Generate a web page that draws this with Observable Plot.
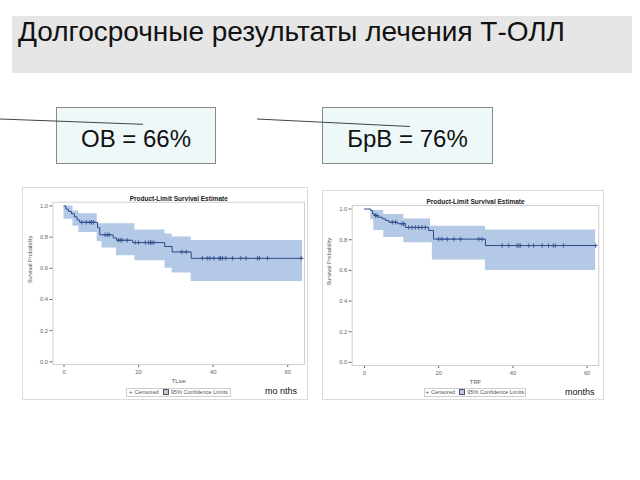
<!DOCTYPE html>
<html>
<head>
<meta charset="utf-8">
<script src="https://cdn.jsdelivr.net/npm/d3@7"></script>
<script src="https://cdn.jsdelivr.net/npm/@observablehq/plot@0.6"></script>
<style>
  html, body { margin: 0; padding: 0; background: #fff; }
  body { width: 640px; height: 480px; position: relative; overflow: hidden; font-family: "Liberation Sans", Arial, sans-serif; }
  .abs { position: absolute; }
  #titlebar { left: 12px; top: 16px; width: 620px; height: 57px; background: #e6e6e6; }
  #title { left: 18px; top: 16px; font-size: 28px; color: #111; white-space: nowrap; }
  .box { top: 107px; height: 57px; background: #eef8f8; border: 1px solid #8a8a8a; box-sizing: border-box;
         font-size: 24px; color: #111; display: flex; align-items: center; justify-content: center; padding-top: 6px; }
  .panel { background: #fff; border: 1px solid #dcdcdc; box-sizing: border-box; }
  .legend { border: 1px solid #cfcfcf; font-size: 5.6px; color: #555; white-space: nowrap; box-sizing: border-box;
            display: flex; align-items: center; justify-content: center; height: 9px; }
  .legend .plus { color: #2d4a8a; margin-right: 2px; }
  .legend .sq { display: inline-block; width: 4px; height: 4px; background: #b4c9e6; border: 0.6px solid #555; margin: 0 2px 0 4px; }
  .months { font-size: 9px; color: #111; white-space: nowrap; }
</style>
</head>
<body>
<div id="titlebar" class="abs"></div>
<div id="title" class="abs">Долгосрочные результаты лечения Т-ОЛЛ</div>

<div class="abs box" style="left:56px;width:160px;">ОВ = 66%</div>
<div class="abs box" style="left:322px;width:171px;">БрВ = 76%</div>

<svg class="abs" style="left:0;top:0" width="640" height="180">
  <line x1="0" y1="119" x2="143" y2="124.3" stroke="#444" stroke-width="1"/>
  <line x1="257" y1="119" x2="410" y2="126.5" stroke="#444" stroke-width="1"/>
</svg>

<div id="panel1" class="abs panel" style="left:22px;top:187px;width:286px;height:213px;"></div>
<div id="panel2" class="abs panel" style="left:322px;top:190px;width:282px;height:210px;"></div>

<div class="abs legend" style="left:126px;top:387.5px;width:105px;"><span class="plus">+</span>Censored<span class="sq"></span>95% Confidence Limits</div>
<div class="abs legend" style="left:424px;top:387.5px;width:102px;"><span class="plus">+</span>Censored<span class="sq"></span>95% Confidence Limits</div>
<div class="abs months" style="left:265px;top:386px;">mo nths</div>
<div class="abs months" style="left:565px;top:387px;">months</div>

<script>
// ---- shared ticks ----
const xTicks = [0, 20, 40, 60];
const yTicks = [0, 0.2, 0.4, 0.6, 0.8, 1.0];
const plotTitle = "Product-Limit Survival Estimate";

// ---- Overall survival (TLive) ----
const osStepT = [0, 0.5, 1.2, 2.0, 2.8, 3.5, 4.2, 9.0, 9.6, 13.2, 14.1, 18.4, 27.0, 29.0, 34.1, 64.0];
const osStepS = [1.0, 0.98, 0.965, 0.95, 0.93, 0.91, 0.895, 0.86, 0.815, 0.795, 0.78, 0.765, 0.74, 0.705, 0.664, 0.664];
const osCensT = [4.8, 6.0, 6.9, 7.4, 7.9, 11.0, 11.6, 12.1, 14.6, 15.1, 15.6, 16.9, 19.1, 20.0, 21.8, 22.7, 23.2, 23.6, 24.1,
                 31.6, 32.8, 37.1, 38.4, 39.1, 40.2, 41.6, 42.0, 42.5, 43.4, 45.2, 47.4, 48.8, 51.9, 52.4, 54.6, 63.6];
const osBandT  = [0, 2.4, 4.0, 8.9, 10.2, 14.1, 19.0, 27.1, 29.0, 34.1, 64.0];
const osBandLo = [0.915, 0.87, 0.83, 0.77, 0.73, 0.68, 0.648, 0.60, 0.57, 0.515, 0.515];
const osBandHi = [1.0, 0.968, 0.95, 0.885, 0.885, 0.885, 0.846, 0.82, 0.80, 0.778, 0.778];

// ---- Event-free survival (TRF) ----
const efsStepT = [0, 1.7, 2.2, 2.7, 3.6, 4.8, 5.7, 6.6, 9.0, 11.0, 17.3, 18.6, 32.6, 62.3];
const efsStepS = [1.0, 0.99, 0.968, 0.957, 0.947, 0.936, 0.925, 0.914, 0.904, 0.88, 0.86, 0.804, 0.762, 0.762];
const efsCensT = [3.0, 3.4, 7.5, 8.4, 10.1, 10.6, 11.9, 12.8, 13.7, 14.6, 15.5, 16.4, 20.0, 20.9, 22.3, 24.1, 25.9,
                  30.8, 31.7, 37.1, 38.9, 41.1, 41.6, 42.0, 44.3, 45.6, 47.9, 49.6, 50.9, 51.4, 53.6, 62.3];
const efsBandT  = [1.7, 2.5, 5.2, 10.6, 17.8, 18.3, 32.6, 62.3];
const efsBandLo = [0.93, 0.86, 0.815, 0.78, 0.78, 0.668, 0.60, 0.60];
const efsBandHi = [0.99, 0.99, 0.965, 0.935, 0.887, 0.887, 0.863, 0.863];

const lineColor = "#2d4a8a";
const bandColor = "#b4c9e6";

function stepValue(ts, ss, t) {
  let v = ss[0];
  for (let i = 0; i < ts.length; i++) if (ts[i] <= t) v = ss[i];
  return v;
}

function kmPlot({stepT, stepS, censT, bandT, bandLo, bandHi, xLabel, width, height, margins, xDomain, yDomain, xLabelOffset}) {
  const steps = stepT.map((t, i) => ({t, s: stepS[i]}));
  const band = bandT.map((t, i) => ({t, lo: bandLo[i], hi: bandHi[i]}));
  const cens = censT.map(t => ({t, s: stepValue(stepT, stepS, t)}));
  return Plot.plot({
    width, height,
    marginLeft: margins[0], marginRight: margins[1], marginTop: margins[2], marginBottom: margins[3],
    style: {fontFamily: "Liberation Sans, Arial, sans-serif", fontSize: "5.8px", color: "#666", background: "transparent"},
    x: {domain: xDomain, ticks: xTicks, tickSize: 3, tickPadding: 2, label: null},
    y: {domain: yDomain, ticks: yTicks, tickFormat: d3.format(".1f"), tickSize: 3, tickPadding: 2, label: null},
    marks: [
      Plot.areaY(band, {x: "t", y1: "lo", y2: "hi", curve: "step-after", fill: bandColor}),
      Plot.frame({stroke: "#cfcfcf"}),
      Plot.line(steps, {x: "t", y: "s", curve: "step-after", stroke: lineColor, strokeWidth: 1}),
      Plot.dot(cens, {x: "t", y: "s", symbol: "plus", r: 1.6, stroke: lineColor, strokeWidth: 0.8}),
      Plot.text([plotTitle], {frameAnchor: "top", dy: -6, fontWeight: "bold", fontSize: 6.5, fill: "#222"}),
      Plot.text([xLabel], {frameAnchor: "bottom", dy: xLabelOffset, fontSize: 5.8, fill: "#555"}),
      Plot.text(["Survival Probability"], {frameAnchor: "left", dx: -23, rotate: -90, fontSize: 5.6, fill: "#555"})
    ]
  });
}

document.getElementById("panel1").appendChild(kmPlot({
  stepT: osStepT, stepS: osStepS, censT: osCensT, bandT: osBandT, bandLo: osBandLo, bandHi: osBandHi,
  xLabel: "TLive", width: 284, height: 211, margins: [29.5, 3, 13.7, 35],
  xDomain: [-2.95, 64.5], yDomain: [-0.017, 1.024], xLabelOffset: 18
}));
document.getElementById("panel2").appendChild(kmPlot({
  stepT: efsStepT, stepS: efsStepS, censT: efsCensT, bandT: efsBandT, bandLo: efsBandLo, bandHi: efsBandHi,
  xLabel: "TRF", width: 280, height: 208, margins: [28.7, 4.7, 14, 34],
  xDomain: [-3.3, 63.15], yDomain: [-0.02, 1.023], xLabelOffset: 18
}));
</script>
</body>
</html>
